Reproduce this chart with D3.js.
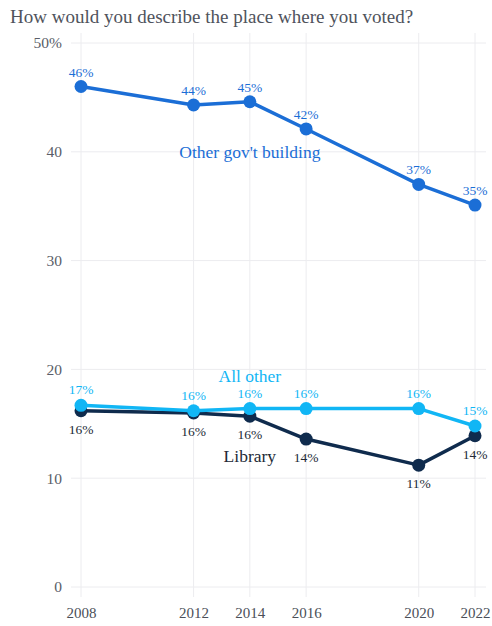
<!DOCTYPE html>
<html><head><meta charset="utf-8">
<script src="https://cdn.jsdelivr.net/npm/d3@7"></script>
<style>
body{margin:0;background:#fff;}
svg text{font-family:"Liberation Serif","DejaVu Serif",serif;}
</style></head>
<body>
<svg id="c" width="492" height="626"></svg>
<script>
const years = [2008, 2012, 2014, 2016, 2020, 2022];
const otherGov = [46.0, 44.3, 44.6, 42.1, 37.0, 35.1];
const allOther = [16.7, 16.2, 16.4, 16.4, 16.4, 14.8];
const library = [16.2, 16.0, 15.7, 13.6, 11.2, 13.9];
const otherGovLabels = ["46%","44%","45%","42%","37%","35%"];
const allOtherLabels = ["17%","16%","16%","16%","16%","15%"];
const libraryLabels = ["16%","16%","16%","14%","11%","14%"];
const yTicks = [0, 10, 20, 30, 40, 50];
const yTickLabels = ["0","10","20","30","40","50%"];
const title = "How would you describe the place where you voted?";

const svg = d3.select("#c");
const x = d3.scaleLinear().domain([2008, 2022]).range([81, 475]);
const y = d3.scaleLinear().domain([0, 50]).range([587, 43]);

// title
svg.append("text").attr("x", 10).attr("y", 23).attr("font-size", 19)
  .attr("fill", "#4f535c").text(title);

// grid
const g = svg.append("g");
g.selectAll("line.h").data(yTicks).join("line")
  .attr("x1", 71).attr("x2", 486).attr("y1", d => y(d)).attr("y2", d => y(d))
  .attr("stroke", "#ececef").attr("stroke-width", 1);
g.selectAll("line.v").data(years).join("line")
  .attr("x1", d => x(d)).attr("x2", d => x(d)).attr("y1", 33).attr("y2", 597)
  .attr("stroke", "#ececef").attr("stroke-width", 1);

// y axis labels
const yAxis = d3.axisLeft(y).tickValues(yTicks).tickFormat((d, i) => yTickLabels[i]).tickSize(0).tickPadding(0);
const ya = svg.append("g").attr("transform", "translate(62,0)").call(yAxis);
ya.select(".domain").remove();
ya.selectAll("text").attr("font-size", 15.5).attr("fill", "#5a5e68")
  .style("font-family", '"Liberation Serif","DejaVu Serif",serif');

// x axis labels
const xAxis = d3.axisBottom(x).tickValues(years).tickFormat(d3.format("d")).tickSize(0).tickPadding(0);
const xa = svg.append("g").attr("transform", "translate(0,607)").call(xAxis);
xa.select(".domain").remove();
xa.selectAll("text").attr("font-size", 15).attr("fill", "#4b4f58")
  .style("font-family", '"Liberation Serif","DejaVu Serif",serif');

const series = [
  {vals: otherGov, labels: otherGovLabels, color: "#1b6ed6", textColor: "#1b6ed6", dy: -10},
  {vals: allOther, labels: allOtherLabels, color: "#11b6f5", textColor: "#11b6f5", dy: -11},
  {vals: library, labels: libraryLabels, color: "#0f2b4d", textColor: "#222a36", dy: 23}
];
const line = d3.line().x(d => x(d[0])).y(d => y(d[1]));

const order = [0, 2, 1];
order.forEach(i => {
  const s = series[i];
  const pts = years.map((yr, j) => [yr, s.vals[j]]);
  svg.append("path").datum(pts).attr("d", line).attr("fill", "none")
    .attr("stroke", s.color).attr("stroke-width", 3.5).attr("stroke-linejoin", "round");
  svg.append("g").selectAll("circle").data(pts).join("circle")
    .attr("cx", d => x(d[0])).attr("cy", d => y(d[1])).attr("r", 6.5).attr("fill", s.color);
});
series.forEach(s => {
  svg.append("g").selectAll("text").data(years).join("text")
    .attr("x", d => x(d)).attr("y", (d, j) => y(s.vals[j]) + s.dy)
    .attr("text-anchor", "middle").attr("font-size", 13.5).attr("fill", s.textColor)
    .text((d, j) => s.labels[j]);
});

// series names
svg.append("text").attr("x", x(2014)).attr("y", 158).attr("text-anchor", "middle")
  .attr("font-size", 17.5).attr("fill", "#1b6ed6").text("Other gov't building");
svg.append("text").attr("x", x(2014)).attr("y", 382).attr("text-anchor", "middle")
  .attr("font-size", 17.5).attr("fill", "#11b6f5").text("All other");
svg.append("text").attr("x", x(2014)).attr("y", 462).attr("text-anchor", "middle")
  .attr("font-size", 17.5).attr("fill", "#222a36").text("Library");
</script>
</body></html>
